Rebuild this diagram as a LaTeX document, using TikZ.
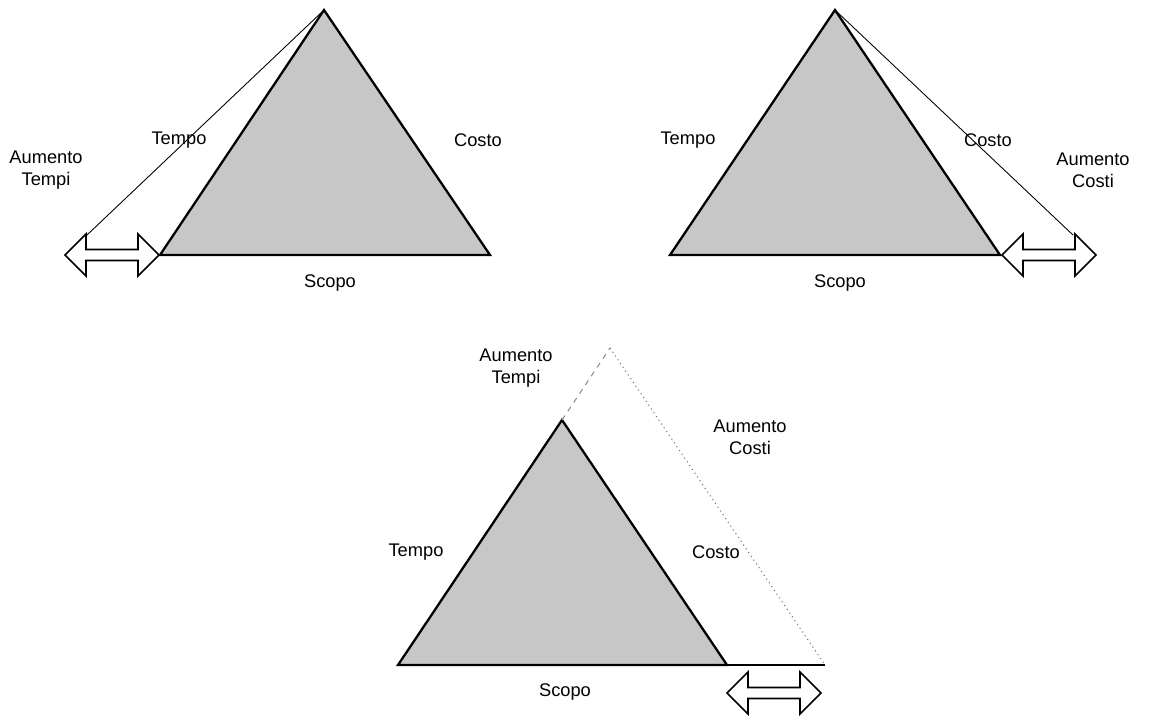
\documentclass[tikz,border=0pt]{standalone}
\usepackage{fontspec}
\setmainfont{Liberation Sans}
\tikzset{
  side/.style={line width=1.3pt},
  label/.style={font=\fontsize{10.4}{12.5}\selectfont, align=center, inner sep=0pt},
  arrowbox/.style={line width=0.9pt, fill=white}
}
% outlined double arrow centred at (#1,#2)
\newcommand{\widearrow}[2]{%
  \draw[arrowbox, shift={(#1,#2)}] (-47,0) -- (-26,-21) -- (-26,-5.5) -- (26,-5.5) -- (26,-21)
    -- (47,0) -- (26,21) -- (26,5.5) -- (-26,5.5) -- (-26,21) -- cycle;}
\begin{document}
\begin{tikzpicture}[x=0.02cm,y=-0.02cm]
        \useasboundingbox (0,0) rectangle (1149,716);
        % left: time grows
        \draw[side, fill=black!22] (324,10) -- (160,255) -- (490,255) -- cycle;
        \draw[line width=0.5pt] (324,10) -- (87,235);
        \widearrow{112}{255}
        \node[label] (tempoA) at (179,140) {Tempo};
        \node[label] (costoA) at (478,140) {Costo};
        \node[label] (scopoA) at (330,283) {Scopo};
        \node[label] (piuTempi) at (46,170) {Aumento\\Tempi};
        % right: cost grows
        \draw[side, fill=black!22] (835,10) -- (670,255) -- (1000,255) -- cycle;
        \draw[line width=0.5pt] (835,10) -- (1073,235);
        \widearrow{1049}{255}
        \node[label] (tempoB) at (688,140) {Tempo};
        \node[label] (costoB) at (988,140) {Costo};
        \node[label] (scopoB) at (840,283) {Scopo};
        \node[label] (piuCosti) at (1093,170) {Aumento\\Costi};
        % bottom: both grow
        \draw[side, fill=black!22] (562,420) -- (398,665) -- (727,665) -- cycle;
        \draw[black!45, dashed, line width=0.6pt] (562,420) -- (610,348);
        \draw[black!55, dotted, line width=0.6pt] (610,348) -- (825,665);
        \draw[side] (727,665) -- (825,665);
        \widearrow{774}{693}
        \node[label] (tempoC) at (416,552) {Tempo};
        \node[label] (costoC) at (716,552) {Costo};
        \node[label] (scopoC) at (565,692) {Scopo};
        \node[label] (piuTempiC) at (516,368) {Aumento\\Tempi};
        \node[label] (piuCostiC) at (750,437) {Aumento\\Costi};
      \end{tikzpicture}
\end{document}
